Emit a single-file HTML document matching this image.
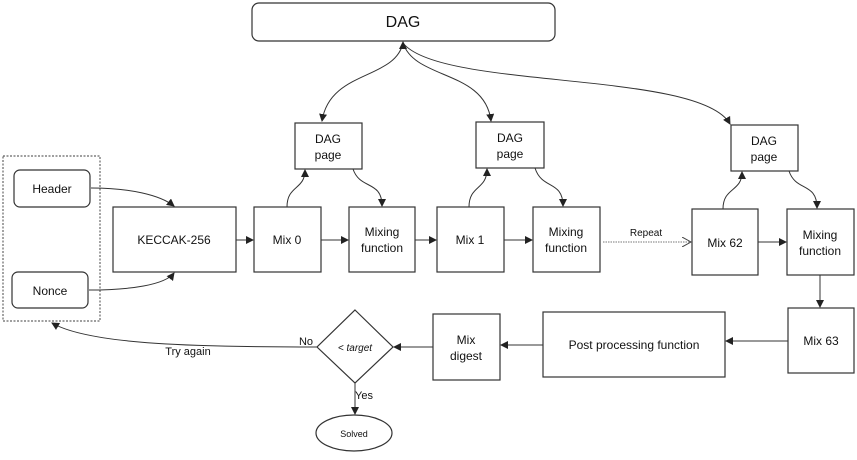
<!DOCTYPE html>
<html><head><meta charset="utf-8"><style>
body{margin:0;background:#fff}
svg text{font-family:"Liberation Sans",sans-serif;fill:#111}
</style></head><body>
<svg width="857" height="455" viewBox="0 0 857 455" xmlns="http://www.w3.org/2000/svg">
<defs>
<marker id="a" markerWidth="8" markerHeight="8" refX="7" refY="4" orient="auto" markerUnits="userSpaceOnUse"><path d="M0,0 L8,4 L0,8z" fill="#222"/></marker>
<marker id="o" markerWidth="10" markerHeight="10" refX="9" refY="5" orient="auto" markerUnits="userSpaceOnUse"><path d="M0,0 L9,5 L0,10" fill="none" stroke="#444"/></marker>
</defs>
<g fill="#fff" stroke="#333" stroke-width="1.2">
<rect x="252" y="3" width="303" height="38" rx="7"/>
<rect x="3" y="156" width="97" height="165" stroke-dasharray="2,1.5" stroke="#666"/>
<rect x="14" y="170" width="76" height="37" rx="6"/>
<rect x="12" y="272" width="76" height="36" rx="6"/>
<rect x="113" y="207" width="123" height="65"/>
<rect x="254" y="207" width="67" height="65"/>
<rect x="349" y="207" width="66" height="65"/>
<rect x="295" y="123" width="67" height="46"/>
<rect x="437" y="207" width="67" height="65"/>
<rect x="533" y="207" width="67" height="65"/>
<rect x="476" y="122" width="68" height="46"/>
<rect x="731" y="125" width="67" height="46"/>
<rect x="692" y="209" width="66" height="66"/>
<rect x="787" y="209" width="67" height="66"/>
<rect x="788" y="308" width="66" height="65"/>
<rect x="543" y="312" width="182" height="65"/>
<rect x="433" y="314" width="67" height="66"/>
<path d="M355,310 L393,347 L355,383 L317,347z"/>
<ellipse cx="354" cy="433" rx="38" ry="18"/>
</g>
<g fill="none" stroke="#333" stroke-width="1">
<path d="M403,43 C395,80 330,70 322,121" marker-end="url(#a)"/>
<path d="M403,43 C415,80 485,70 491,121" marker-end="url(#a)"/>
<path d="M403,43 C440,90 700,70 730,124" marker-end="url(#a)"/>
<path d="M403,47 L403,42" marker-end="url(#a)"/>
<path d="M91,188 C130,188 160,195 174,206" marker-end="url(#a)"/>
<path d="M89,290 C130,290 165,285 174,273" marker-end="url(#a)"/>
<path d="M236,240 L253,240" marker-end="url(#a)"/>
<path d="M321,240 L348,240" marker-end="url(#a)"/>
<path d="M415,240 L436,240" marker-end="url(#a)"/>
<path d="M504,240 L532,240" marker-end="url(#a)"/>
<path d="M758,242 L786,242" marker-end="url(#a)"/>
<path d="M287,207 C287,185 305,190 305,170" marker-end="url(#a)"/>
<path d="M353,169 C360,190 382,180 382,206" marker-end="url(#a)"/>
<path d="M469,207 C469,185 487,190 487,169" marker-end="url(#a)"/>
<path d="M535,168 C542,190 563,180 563,206" marker-end="url(#a)"/>
<path d="M723,209 C723,187 742,192 742,172" marker-end="url(#a)"/>
<path d="M789,171 C796,192 817,182 817,208" marker-end="url(#a)"/>
<path d="M820,275 L820,307" marker-end="url(#a)"/>
<path d="M788,341 L726,341" marker-end="url(#a)"/>
<path d="M543,345 L501,345" marker-end="url(#a)"/>
<path d="M433,347 L394,347" marker-end="url(#a)"/>
<path d="M355,383 L355,414" marker-end="url(#a)"/>
<path d="M317,347 C200,347 90,345 52,323" marker-end="url(#a)"/>
<path d="M603,242 L691,242" stroke="#777" stroke-dasharray="1.5,1" marker-end="url(#o)"/>
</g>
<g font-size="12" text-anchor="middle">
<text x="403" y="27" font-size="16">DAG</text>
<text x="52" y="193">Header</text>
<text x="50" y="295">Nonce</text>
<text x="174" y="244">KECCAK-256</text>
<text x="287" y="244">Mix 0</text>
<text x="382" y="236">Mixing</text><text x="382" y="252">function</text>
<text x="328" y="143">DAG</text><text x="328" y="159">page</text>
<text x="470" y="244">Mix 1</text>
<text x="566" y="236">Mixing</text><text x="566" y="252">function</text>
<text x="510" y="142">DAG</text><text x="510" y="158">page</text>
<text x="764" y="145">DAG</text><text x="764" y="161">page</text>
<text x="725" y="247">Mix 62</text>
<text x="820" y="239">Mixing</text><text x="820" y="255">function</text>
<text x="821" y="345">Mix 63</text>
<text x="634" y="349">Post processing function</text>
<text x="466" y="344">Mix</text><text x="466" y="360">digest</text>
<text x="646" y="236" font-size="10">Repeat</text>
<text x="355" y="351" font-size="10" font-style="italic" font-family="Liberation Serif,serif">&lt; target</text>
<text x="306" y="345" font-size="11">No</text>
<text x="188" y="355" font-size="11">Try again</text>
<text x="364" y="399" font-size="11">Yes</text>
<text x="354" y="437" font-size="9">Solved</text>
</g>
</svg>
</body></html>
